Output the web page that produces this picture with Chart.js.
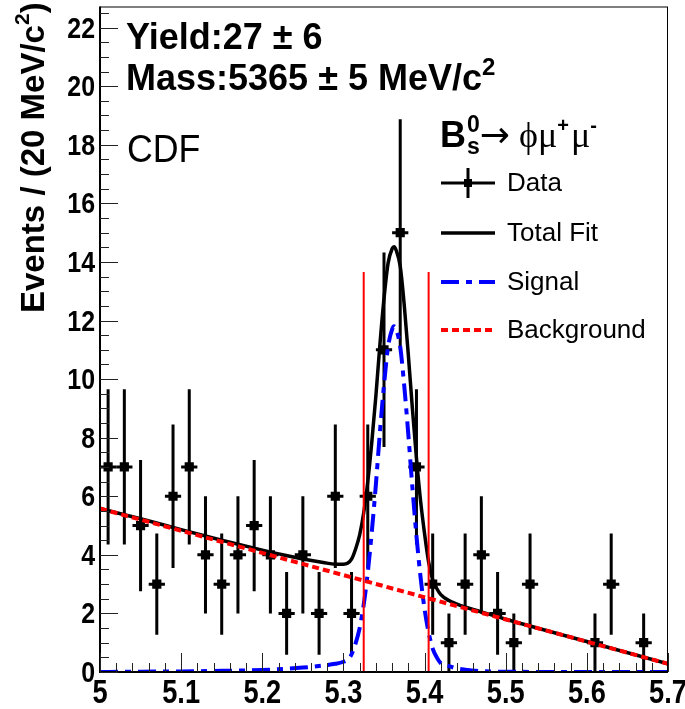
<!DOCTYPE html>
<html>
<head>
<meta charset="utf-8">
<script src="https://cdn.jsdelivr.net/npm/chart.js@4.4.0/dist/chart.umd.min.js"></script>
<style>
  html, body { margin: 0; padding: 0; background: #fff; }
</style>
</head>
<body>
<canvas id="massChart" width="685" height="709"></canvas>
<script>
// binned data (20 MeV bins), empty bins are null
const binCenters = [5.01, 5.03, 5.05, 5.07, 5.09, 5.11, 5.13, 5.15, 5.17, 5.19,
                    5.21, 5.23, 5.25, 5.27, 5.29, 5.31, 5.33, 5.35, 5.37, 5.39,
                    5.41, 5.43, 5.45, 5.47, 5.49, 5.51, 5.53, 5.55, 5.57, 5.59,
                    5.61, 5.63, 5.65, 5.67, 5.69];
const counts = [7, 7, 5, 3, 6, 7, 4, 3, 4, 5,
                4, 2, 4, 2, 6, 2, 6, 11, 15, 7,
                3, 1, 3, 4, 2, 1, 3, null, null, null,
                1, 3, null, 1, null];
const errors = [2.65, 2.65, 2.24, 1.73, 2.45, 2.65, 2, 1.73, 2, 2.24,
                2, 1.41, 2, 1.41, 2.45, 1.41, 2.45, 3.32, 3.87, 2.65,
                1.73, 1, 1.73, 2, 1.41, 1, 1.73, null, null, null,
                1, 1.73, null, 1, null];

// fit curves
const fitX = [5.00, 5.05, 5.10, 5.15, 5.20, 5.225, 5.25, 5.275, 5.29, 5.30,
              5.305, 5.31, 5.315, 5.32, 5.325, 5.33, 5.335, 5.34, 5.345, 5.35,
              5.355, 5.36, 5.3625, 5.365, 5.37, 5.375, 5.38, 5.385, 5.39, 5.395,
              5.40, 5.405, 5.41, 5.415, 5.42, 5.43, 5.44, 5.45, 5.47, 5.50,
              5.60, 5.70];
const totalFit = [5.58, 5.23, 4.86, 4.50, 4.16, 4.00, 3.86, 3.74, 3.68, 3.68,
                  3.71, 3.85, 4.20, 4.68, 5.44, 6.50, 7.86, 9.43, 11.19, 12.75,
                  13.95, 14.45, 14.52, 14.40, 13.85, 12.51, 10.82, 8.99, 7.30, 5.86,
                  4.72, 3.75, 3.15, 2.85, 2.64, 2.44, 2.32, 2.22, 2.05, 1.80,
                  1.04, 0.28];
const signal = [0, 0.01, 0.02, 0.04, 0.07, 0.1, 0.15, 0.22, 0.28, 0.35,
                0.42, 0.6, 0.98, 1.5, 2.3, 3.4, 4.8, 6.4, 8.2, 9.8,
                11.1, 11.7, 11.8, 11.7, 11.1, 9.75, 8.1, 6.3, 4.65, 3.25,
                2.15, 1.35, 0.8, 0.5, 0.3, 0.2, 0.12, 0.08, 0.03, 0.01,
                0, 0];
const bgX = [5.0, 5.7];
const background = [5.58, 0.28];

// signal window
const windowEdges = [5.325, 5.405];
const windowTop = 13.66;

const xTicks = [5.0, 5.1, 5.2, 5.3, 5.4, 5.5, 5.6, 5.7];
const xTickLabels = ['5', '5.1', '5.2', '5.3', '5.4', '5.5', '5.6', '5.7'];
const yTicks = [0, 2, 4, 6, 8, 10, 12, 14, 16, 18, 20, 22];
const yTickLabels = ['0', '2', '4', '6', '8', '10', '12', '14', '16', '18', '20', '22'];

const legendLabels = ['Data', 'Total Fit', 'Signal', 'Background'];

const BLUE = '#0000ff';
const RED = '#ff0000';
const SANS = '"Liberation Sans", Arial, sans-serif';
const SERIF = '"Liberation Serif", "DejaVu Serif", serif';
const sigDash = [18, 7, 6, 7];
const bgDash = [7, 4];

function pts(xs, ys) {
  return xs.map((x, i) => ({ x: x, y: ys[i] }));
}

// draw a run of text pieces one after the other
function drawRich(ctx, x, y, parts) {
  let cx = x;
  parts.forEach(p => {
    ctx.font = p.font;
    ctx.fillText(p.t, cx, y + (p.dy || 0));
    if (!p.stay) cx += ctx.measureText(p.t).width + (p.gap || 0);
  });
  return cx;
}

function textScaled(ctx, txt, x, y, sx, align) {
  ctx.save();
  ctx.translate(x, y);
  ctx.scale(sx, 1);
  ctx.textAlign = align;
  ctx.fillText(txt, 0, 0);
  ctx.restore();
}

const errorBars = {
  id: 'errorBars',
  afterDatasetDraw(chart, args) {
    if (args.index !== 4) return;
    const ctx = chart.ctx;
    const xs = chart.scales.x, ys = chart.scales.y;
    ctx.save();
    ctx.strokeStyle = '#000';
    ctx.lineWidth = 3;
    binCenters.forEach((x, i) => {
      if (counts[i] === null) return;
      const px = xs.getPixelForValue(x);
      const py = ys.getPixelForValue(counts[i]);
      ctx.beginPath();
      ctx.moveTo(px, ys.getPixelForValue(counts[i] + errors[i]));
      ctx.lineTo(px, ys.getPixelForValue(Math.max(0, counts[i] - errors[i])));
      ctx.moveTo(xs.getPixelForValue(x - 0.01), py);
      ctx.lineTo(xs.getPixelForValue(x + 0.01), py);
      ctx.stroke();
    });
    ctx.restore();
  }
};

const frameAndText = {
  id: 'frameAndText',
  afterDraw(chart) {
    const ctx = chart.ctx;
    const a = chart.chartArea;
    const xs = chart.scales.x, ys = chart.scales.y;
    ctx.save();

    // frame
    ctx.strokeStyle = '#000';
    ctx.lineWidth = 1;
    ctx.strokeRect(a.left + 0.5, a.top + 0.5, a.right - a.left - 1, a.bottom - a.top);
    ctx.lineWidth = 2;
    ctx.beginPath();
    ctx.moveTo(a.left, a.top);
    ctx.lineTo(a.left, a.bottom);
    ctx.lineTo(a.right, a.bottom);
    ctx.stroke();

    // inward ticks
    ctx.lineWidth = 1;
    ctx.strokeStyle = '#222';
    ctx.beginPath();
    xTicks.forEach((v, i) => {
      const px = Math.round(xs.getPixelForValue(v)) + 0.5;
      ctx.moveTo(px, a.bottom); ctx.lineTo(px, a.bottom - 19);
      if (i < xTicks.length - 1) {
        const step = (xTicks[i + 1] - v) / 5;
        for (let k = 1; k < 5; k++) {
          const mx = Math.round(xs.getPixelForValue(v + k * step)) + 0.5;
          ctx.moveTo(mx, a.bottom); ctx.lineTo(mx, a.bottom - 9);
        }
      }
    });
    yTicks.forEach((v, i) => {
      const py = Math.round(ys.getPixelForValue(v)) + 0.5;
      ctx.moveTo(a.left, py); ctx.lineTo(a.left + 18, py);
      const step = 0.5;
      for (let k = 1; k < 4; k++) {
        const val = v + k * step;
        if (val > ys.max) break;
        const my = Math.round(ys.getPixelForValue(val)) + 0.5;
        ctx.moveTo(a.left, my); ctx.lineTo(a.left + 9, my);
      }
    });
    ctx.stroke();

    // tick labels
    ctx.fillStyle = '#000';
    ctx.textBaseline = 'alphabetic';
    ctx.font = 'bold 34px ' + SANS;
    xTicks.forEach((v, i) => {
      textScaled(ctx, xTickLabels[i], xs.getPixelForValue(v), 703, 0.8, 'center');
    });
    ctx.font = 'bold 29px ' + SANS;
    yTicks.forEach((v, i) => {
      textScaled(ctx, yTickLabels[i], 95, ys.getPixelForValue(v) + 10, 0.86, 'right');
    });

    // y title
    ctx.save();
    ctx.translate(44, 313);
    ctx.rotate(-Math.PI / 2);
    ctx.textAlign = 'left';
    drawRich(ctx, 0, 0, [
      { t: 'Events / (20 MeV/c', font: 'bold 33px ' + SANS },
      { t: '2', font: 'bold 21px ' + SANS, dy: -15 },
      { t: ')', font: 'bold 33px ' + SANS }
    ]);
    ctx.restore();

    // fit results
    ctx.textAlign = 'left';
    drawRich(ctx, 126, 49, [
      { t: 'Yield:27 ', font: 'bold 36px ' + SANS },
      { t: '\u00b1', font: 'bold 36px ' + SANS },
      { t: ' 6', font: 'bold 36px ' + SANS }
    ]);
    drawRich(ctx, 126, 90, [
      { t: 'Mass:5365 \u00b1 5 MeV/c', font: 'bold 36px ' + SANS },
      { t: '2', font: 'bold 24px ' + SANS, dy: -15 }
    ]);
    ctx.font = '38px ' + SANS;
    textScaled(ctx, 'CDF', 127, 162, 0.94, 'left');

    // legend header
    ctx.textAlign = 'left';
    drawRich(ctx, 440, 147, [
      { t: 'B', font: 'bold 36px ' + SANS, gap: 1 },
      { t: '0', font: 'bold 23px ' + SANS, dy: -15, stay: true },
      { t: 's', font: 'bold 23px ' + SANS, dy: 7 },
      { t: '\u2192', font: '36px "DejaVu Sans", sans-serif', gap: 9 },
      { t: '\u03d5\u03bc', font: '36px ' + SERIF },
      { t: '+', font: 'bold 20px ' + SANS, dy: -15, gap: 2 },
      { t: '\u03bc', font: '36px ' + SERIF },
      { t: '-', font: 'bold 20px ' + SANS, dy: -15 }
    ]);

    // legend entries
    const rows = [183, 233, 282, 330];
    const x0 = 441, x1 = 495;
    ctx.lineWidth = 3;
    ctx.strokeStyle = '#000';
    ctx.beginPath();
    ctx.moveTo(x0, rows[0]); ctx.lineTo(x1, rows[0]);
    ctx.moveTo(468, rows[0] - 15); ctx.lineTo(468, rows[0] + 15);
    ctx.stroke();
    ctx.fillStyle = '#000';
    ctx.fillRect(464, rows[0] - 4, 8, 8);
    ctx.lineWidth = 3.5;
    ctx.beginPath();
    ctx.moveTo(x0, rows[1]); ctx.lineTo(x1, rows[1]);
    ctx.stroke();
    ctx.lineWidth = 4;
    ctx.strokeStyle = BLUE;
    ctx.setLineDash(sigDash);
    ctx.beginPath();
    ctx.moveTo(x0, rows[2]); ctx.lineTo(x1, rows[2]);
    ctx.stroke();
    ctx.strokeStyle = RED;
    ctx.setLineDash(bgDash);
    ctx.beginPath();
    ctx.moveTo(x0, rows[3]); ctx.lineTo(x1, rows[3]);
    ctx.stroke();
    ctx.setLineDash([]);

    ctx.fillStyle = '#000';
    ctx.font = '26px ' + SANS;
    ctx.textBaseline = 'middle';
    legendLabels.forEach((lab, i) => ctx.fillText(lab, 507, rows[i] + 1));

    ctx.restore();
  }
};

const ctx = document.getElementById('massChart').getContext('2d');
new Chart(ctx, {
  type: 'scatter',
  data: {
    datasets: [
      {
        type: 'line',
        data: [{ x: windowEdges[0], y: 0 }, { x: windowEdges[0], y: windowTop }],
        borderColor: RED, borderWidth: 2, pointRadius: 0
      },
      {
        type: 'line',
        data: [{ x: windowEdges[1], y: 0 }, { x: windowEdges[1], y: windowTop }],
        borderColor: RED, borderWidth: 2, pointRadius: 0
      },
      {
        type: 'line',
        data: pts(bgX, background),
        borderColor: RED, borderWidth: 4, borderDash: bgDash, pointRadius: 0
      },
      {
        type: 'line',
        data: pts(fitX, signal),
        borderColor: BLUE, borderWidth: 4, borderDash: sigDash, pointRadius: 0,
        cubicInterpolationMode: 'monotone'
      },
      {
        data: pts(binCenters, counts),
        backgroundColor: '#000', borderWidth: 0,
        pointStyle: 'rect', pointRadius: 6.5
      },
      {
        type: 'line',
        data: pts(fitX, totalFit),
        borderColor: '#000', borderWidth: 3.5, pointRadius: 0,
        cubicInterpolationMode: 'monotone'
      }
    ]
  },
  options: {
    responsive: false,
    animation: false,
    events: [],
    layout: { padding: { top: 5, right: 17, left: 0, bottom: 0 } },
    plugins: { legend: { display: false }, tooltip: { enabled: false } },
    scales: {
      x: {
        type: 'linear', min: 5, max: 5.7,
        grid: { display: false }, border: { display: false },
        ticks: { display: false },
        afterFit: s => { s.height = 37; }
      },
      y: {
        type: 'linear', min: 0, max: 22.72,
        grid: { display: false }, border: { display: false },
        ticks: { display: false },
        afterFit: s => { s.width = 100; }
      }
    }
  },
  plugins: [errorBars, frameAndText]
});
</script>
</body>
</html>
